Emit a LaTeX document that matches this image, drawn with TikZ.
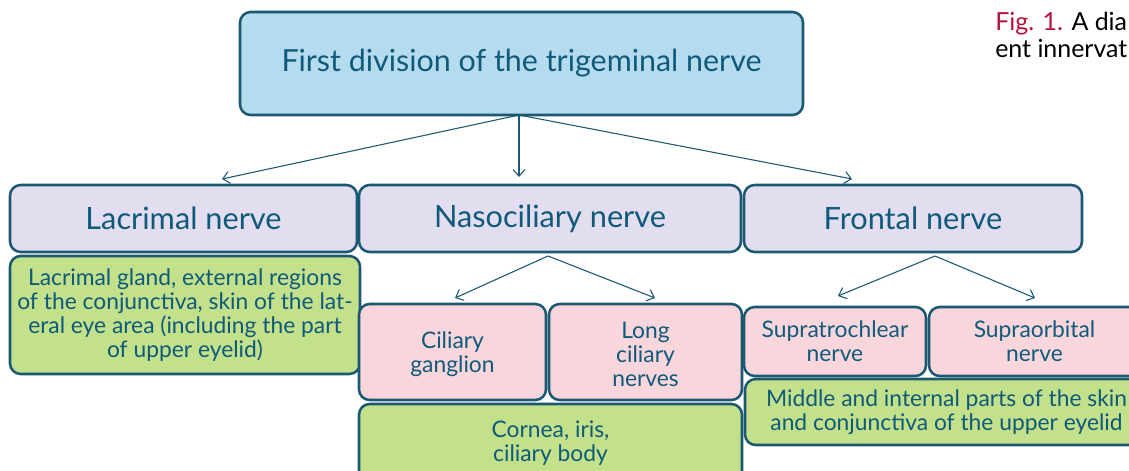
\documentclass[tikz,border=0pt]{standalone}
\usepackage{fontspec}
\setmainfont{Lato}
\usetikzlibrary{arrows.meta}
\definecolor{ink}{HTML}{0F5A7A}
\definecolor{edge}{HTML}{1B5872}
\definecolor{topfill}{HTML}{B5DBEF}
\definecolor{lav}{HTML}{E3DDF0}
\definecolor{grn}{HTML}{C3E08B}
\definecolor{pnk}{HTML}{F9D5DC}
\definecolor{crim}{HTML}{B5123E}
\newlength\fw
\newcommand\setfit[3]{\settowidth\fw{\fontsize{10pt}{12pt}\selectfont #3}\pgfmathsetmacro#1{10*#2*0.75/\fw}}
\newcommand\pxbox[7]{\node[#6, minimum width={(#4-#2)*0.75pt}, minimum height={(#5-#3)*0.75pt}] (#1) at ({(#2+#4)/2},{(#3+#5)/2}) {#7};}
\tikzset{
  box/.style={draw=edge, line width=1.9pt, rounded corners=8pt, text=ink, inner sep=0pt, align=center},
  bigt/.style={font=\fontsize{\fbig pt}{24pt}\selectfont},
  medt/.style={font=\fontsize{\fmed pt}{22pt}\selectfont},
  smlt/.style={font=\fontsize{\fsml pt}{18pt}\selectfont},
  conn/.style={draw=edge, line width=0.8pt, -{Straight Barb[length=5pt,width=9pt]}},
}
\begin{document}
\setfit\fbig{480}{First division of the trigeminal nerve}%
\setfit\fmed{232}{Nasociliary nerve}%
\setfit\fsml{361}{Middle and internal parts of the skin}%
\setfit\fcap{132}{ent innervat}%
\begin{tikzpicture}[x=0.75pt,y=-0.75pt]
\useasboundingbox (0,0) rectangle (1129,471);
\clip (0,0) rectangle (1129,471);
% top
\pxbox{top}{240}{12}{803}{115}{box,fill=topfill,bigt}{First division of the trigeminal nerve}
% row 2
\pxbox{lac}{10}{185}{357}{252}{box,fill=lav,medt}{Lacrimal nerve}
\pxbox{naso}{359}{185}{741}{252}{box,fill=lav,medt}{Nasociliary nerve}
\pxbox{front}{744}{185}{1082}{252}{box,fill=lav,medt}{Frontal nerve}
% lacrimal target
\pxbox{lacg}{10}{256}{360}{374}{box,fill=grn,smlt}{Lacrimal gland, external regions\\of the conjunctiva, skin of the lat-\\eral eye area (including the part\\of upper eyelid)}
% nasociliary branches
\pxbox{cil}{359}{304}{546}{400}{box,fill=pnk,smlt}{\rule{0pt}{16pt}Ciliary\\ganglion}
\pxbox{long}{549}{304}{742}{400}{box,fill=pnk,smlt}{\rule{0pt}{16pt}Long\\ciliary\\nerves}
\pxbox{corn}{359}{404}{742}{482}{box,fill=grn,smlt}{Cornea, iris,\\ciliary body}
% frontal branches
\pxbox{supt}{744}{307}{926}{376}{box,fill=pnk,smlt}{Supratrochlear\\nerve}
\pxbox{supo}{929}{307}{1140}{376}{box,fill=pnk,smlt}{Supraorbital\\nerve}
\pxbox{midg}{745}{379}{1140}{445}{box,fill=grn,smlt}{\hspace*{6pt}Middle and internal parts of the skin\\\hspace*{6pt}and conjunctiva of the upper eyelid}
% arrow ends
\coordinate (a1) at (222,179);
\coordinate (a2) at (519,177);
\coordinate (a3) at (852,179);
\coordinate (nap) at (548,256);
\coordinate (n1) at (455,298);
\coordinate (n2) at (655,298);
\coordinate (fap) at (935,256);
\coordinate (f1) at (838,296);
\coordinate (f2) at (1035,298);
\coordinate (tap) at (519,115);
\draw[conn] (tap) -- (a1);
\draw[conn] (tap) -- (a2);
\draw[conn] (tap) -- (a3);
\draw[conn] (nap) -- (n1);
\draw[conn] (nap) -- (n2);
\draw[conn] (fap) -- (f1);
\draw[conn] (fap) -- (f2);
% caption
\node[anchor=base west, inner sep=0pt, font=\fontsize{\fcap pt}{20pt}\selectfont] (cap1) at (995,31) {\textcolor{crim}{Fig. 1.} A dia};
\node[anchor=base west, inner sep=0pt, font=\fontsize{\fcap pt}{20pt}\selectfont] (cap2) at (995,57) {ent innervat};
\end{tikzpicture}
\end{document}
